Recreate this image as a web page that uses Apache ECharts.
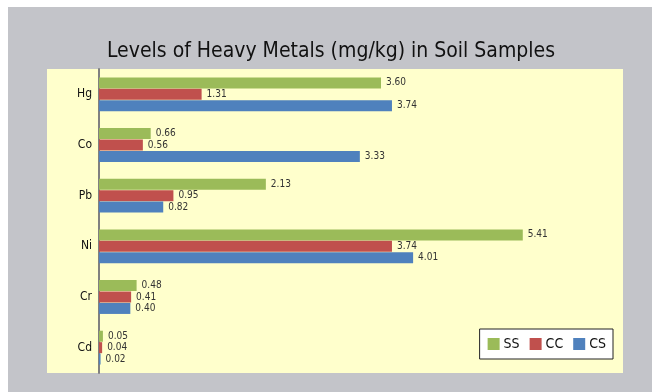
<!DOCTYPE html>
<html>
<head>
<meta charset="utf-8">
<script src="https://cdn.jsdelivr.net/npm/echarts@6/dist/echarts.min.js"></script>
<style>
  html, body { margin: 0; padding: 0; background: #fff; }
  #chart { width: 652px; height: 392px; }
</style>
</head>
<body>
<div id="chart"></div>
<script>
var metals = ['Hg', 'Co', 'Pb', 'Ni', 'Cr', 'Cd'];
var seriesNames = ['SS', 'CC', 'CS'];
var ssValues = [3.60, 0.66, 2.13, 5.41, 0.48, 0.05];
var ccValues = [1.31, 0.56, 0.95, 3.74, 0.41, 0.04];
var csValues = [3.74, 3.33, 0.82, 4.01, 0.40, 0.02];
var colors = ['#9BBB59', '#C0504D', '#4F81BD'];

// narrow sans for the Excel-like look
var narrow = '"DejaVu Sans Condensed", "Liberation Sans", sans-serif';

var myChart = echarts.init(document.getElementById('chart'), null, { renderer: 'canvas' });

function makeSeries(name, values, color) {
    return {
        name: name,
        type: 'bar',
        data: values,
        barWidth: 11,
        barGap: '4%',
        itemStyle: { color: color },
        label: {
            show: true,
            position: 'right',
            distance: 5,
            color: '#333',
            fontFamily: narrow,
            fontSize: 10,
            formatter: function (p) { return p.value.toFixed(2); }
        },
        animation: false
    };
}

var option = {
    backgroundColor: '#fff',
    animation: false,
    graphic: [
        { type: 'rect', z: -10, shape: { x: 8, y: 7, width: 644, height: 385 }, style: { fill: '#C3C4C9' } },
        { type: 'rect', z: -9, shape: { x: 47, y: 69, width: 576, height: 304 }, style: { fill: '#FFFFCC' } }
    ],
    title: {
        text: 'Levels of Heavy Metals (mg/kg) in Soil Samples',
        left: 326,
        textAlign: 'center',
        top: 36,
        textStyle: {
            fontFamily: narrow,
            fontWeight: 'normal',
            fontSize: 21,
            color: '#111'
        }
    },
    legend: {
        data: seriesNames,
        right: 39,
        top: 329,
        orient: 'horizontal',
        backgroundColor: '#fff',
        borderColor: '#222',
        borderWidth: 1,
        borderRadius: 0,
        padding: [8, 7, 8, 8],
        itemWidth: 12,
        itemHeight: 12,
        itemGap: 10,
        icon: 'rect',
        textStyle: {
            fontFamily: narrow,
            fontSize: 14,
            color: '#111',
            padding: [0, 0, 0, -1]
        }
    },
    grid: {
        left: 99,
        top: 69,
        width: 470,
        height: 304,
        containLabel: false
    },
    xAxis: {
        type: 'value',
        min: 0,
        max: 6,
        show: false
    },
    yAxis: {
        type: 'category',
        data: metals,
        inverse: true,
        axisLine: { show: true, lineStyle: { color: '#808080', width: 2 } },
        axisTick: { show: false },
        axisLabel: {
            margin: 7,
            color: '#111',
            fontFamily: narrow,
            fontSize: 12
        }
    },
    series: [
        makeSeries('SS', ssValues, colors[0]),
        makeSeries('CC', ccValues, colors[1]),
        makeSeries('CS', csValues, colors[2])
    ]
};

myChart.setOption(option);
</script>
</body>
</html>
